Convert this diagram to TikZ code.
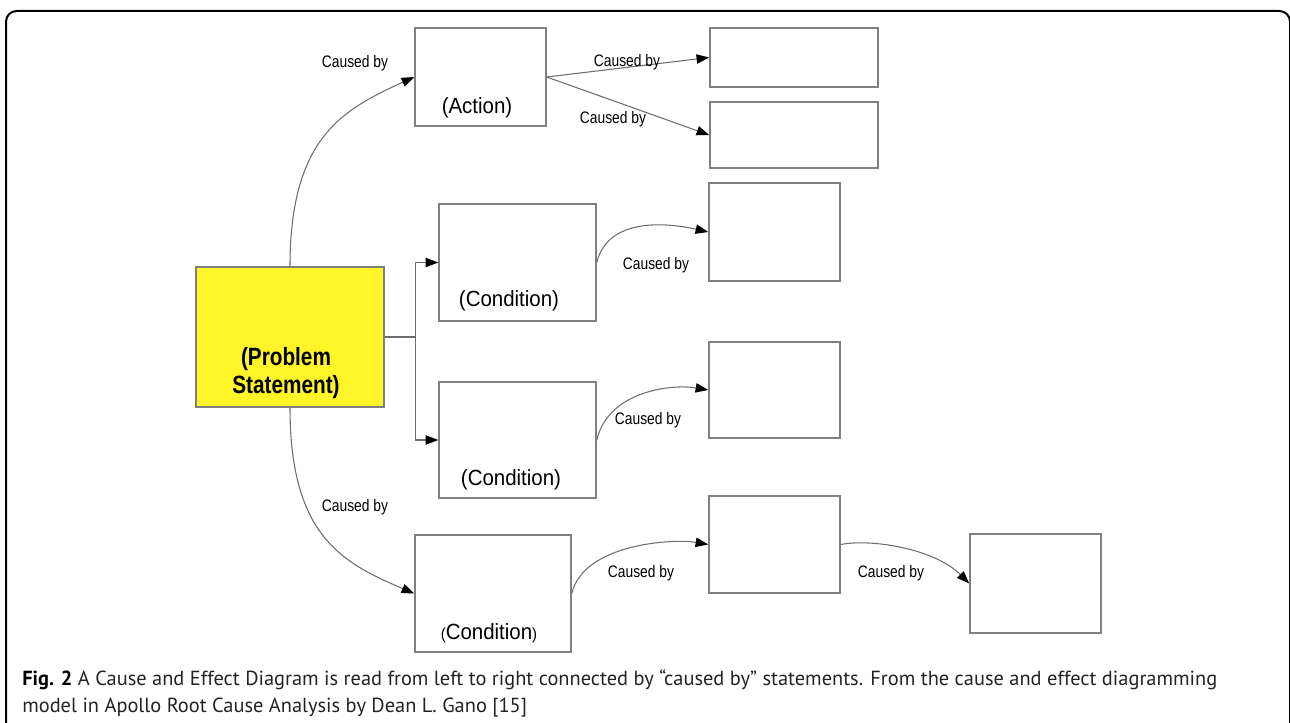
\documentclass[tikz,border=0pt]{standalone}
\usepackage{fontspec}
\usepackage{tikz}
\usetikzlibrary{arrows.meta}
\newfontfamily\lblfont[FakeStretch=0.83]{Liberation Sans}
\newfontfamily\boxfont[FakeStretch=0.93]{Liberation Sans}
\newfontfamily\probfont[FakeStretch=0.83]{Liberation Sans}
\newfontfamily\capfont{PT Sans}
\definecolor{probyellow}{RGB}{255,245,40}
\definecolor{boxgray}{RGB}{128,128,128}
\definecolor{linegray}{RGB}{110,110,110}
\definecolor{captext}{RGB}{35,35,35}

\begin{document}
\begin{tikzpicture}[x=0.75pt,y=0.75pt,yscale=-1,xscale=1,
  box/.style 2 args={draw=boxgray, line width=1.1pt, inner sep=0pt, minimum width=#1*0.75pt, minimum height=#2*0.75pt},
  boxtxt/.style={inner sep=0pt, font=\boxfont\fontsize{16.5}{19}\selectfont},
  lbl/.style={inner sep=0pt, font=\lblfont\fontsize{12.5}{14}\selectfont},
  conn/.style={draw=linegray, line width=0.8pt},
  arr/.style={conn, -{Triangle[length=9.5pt,width=7pt,color=black]}}]
\useasboundingbox (0,0) rectangle (1290,723);

%Frame
\draw [line width=1.5pt, rounded corners=8pt] (6,11) rectangle (1290,745);

%Boxes
\node [box={188}{140}, fill=probyellow] (prob) at (290,337) {};
\node [box={131}{98}] (act) at (480.5,77) {};
\node [box={168}{59}] (r1) at (794,57.5) {};
\node [box={168}{66}] (r2) at (794,135) {};
\node [box={157}{117}] (c1) at (517.5,262.5) {};
\node [box={131}{98}] (r3) at (774.5,232) {};
\node [box={157}{116}] (c2) at (517.5,440) {};
\node [box={131}{96}] (r4) at (774.5,390) {};
\node [box={156}{117}] (c3) at (493,593.5) {};
\node [box={131}{97}] (r5) at (774.5,544.5) {};
\node [box={131}{99}] (r6) at (1035.5,583.5) {};

%Box texts
\node [align=center, inner sep=0pt, font=\probfont\bfseries\fontsize{18.75}{21}\selectfont] (probtxt) at (286,373) {(Problem\\Statement)};
\node [boxtxt] (acttxt) at (477,108) {(Action)};
\node [boxtxt] (c1txt) at (509,301) {(Condition)};
\node [boxtxt] (c2txt) at (511,480) {(Condition)};
\node [boxtxt] (c3txt) at (489,633) {{\fontsize{12}{14}\selectfont(}Condition{\fontsize{12}{14}\selectfont)}};

%Connectors
\draw [arr] (prob.north) .. controls +(0,-130) and +(-70,32) .. (act.west);
\draw [arr] (prob.south) .. controls +(0,130) and +(-70,-30) .. (c3.west);
\draw [conn] (prob.east) -- ++(31,0) coordinate (bus);
\draw [arr] (bus) |- (c1.west);
\draw [arr] (bus) |- (c2.west);
\draw [arr] (act.east) -- (r1.west);
\draw [arr] (act.east) -- (r2.west);
\draw [arr] (c1.east) .. controls +(12,-48) and +(-35,-8) .. (r3.west);
\draw [arr] (c2.east) .. controls +(12,-50) and +(-35,-6) .. (r4.west);
\draw [arr] (c3.east) .. controls +(12,-50) and +(-35,-6) .. (r5.west);
\draw [arr] (r5.east) .. controls +(30,-6) and +(-35,-35) .. (r6.west);

%Labels
\node [lbl] (l1) at (355,63) {Caused by};
\node [lbl] (l2) at (627,62) {Caused by};
\node [lbl] (l3) at (613,119) {Caused by};
\node [lbl] (l4) at (656,265) {Caused by};
\node [lbl] (l5) at (648,420) {Caused by};
\node [lbl] (l6) at (355,507) {Caused by};
\node [lbl] (l7) at (641,573) {Caused by};
\node [lbl] (l8) at (891,573) {Caused by};

%Caption
\node [anchor=west, inner sep=0pt, text=captext, font=\capfont\fontsize{15.3}{21}\selectfont] (cap1) at (22,680) {\textbf{\color{black}Fig. 2} A Cause and Effect Diagram is read from left to right connected by “caused by” statements. From the cause and effect diagramming};
\node [anchor=west, inner sep=0pt, text=captext, font=\capfont\fontsize{15.3}{21}\selectfont] (cap2) at (22,708) {model in Apollo Root Cause Analysis by Dean L. Gano [15]};

\end{tikzpicture}
\end{document}
